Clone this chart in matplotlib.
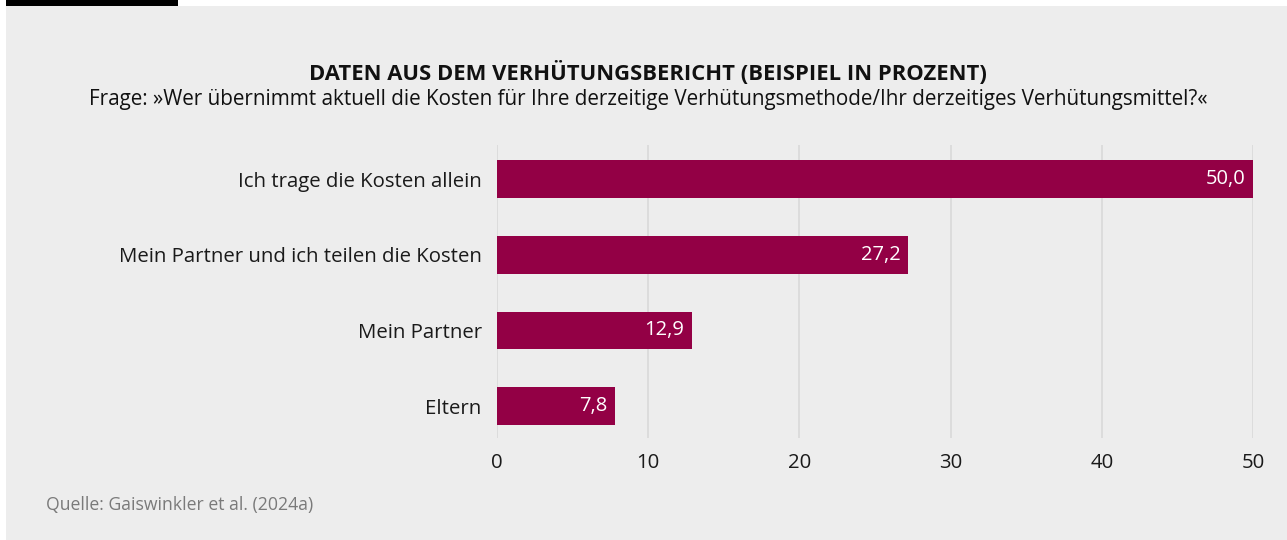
import matplotlib.pyplot as plt
from matplotlib.patches import Rectangle

plt.rcParams['font.family'] = ['Open Sans', 'DejaVu Sans']

categories = ['Ich trage die Kosten allein', 'Mein Partner und ich teilen die Kosten',
              'Mein Partner', 'Eltern']
values = [50.0, 27.2, 12.9, 7.8]
xticks = [0, 10, 20, 30, 40, 50]

bar_color = '#930045'
panel = '#ededed'

fig = plt.figure(figsize=(12.87, 5.40), dpi=100)
fig.patch.set_facecolor('white')
# grey panel and black tab at top left
fig.add_artist(Rectangle((6 / 1287, 0), 1, 534 / 540, transform=fig.transFigure,
                         facecolor=panel, edgecolor='none', zorder=0))
fig.add_artist(Rectangle((6 / 1287, 534 / 540), 172 / 1287, 6 / 540, transform=fig.transFigure,
                         facecolor='black', edgecolor='none', zorder=0))

ax = fig.add_axes([497 / 1287, 102 / 540, 756 / 1287, 293 / 540])
ax.set_facecolor('none')
y = list(range(len(categories)))
ax.barh(y, values, height=0.5, color=bar_color, zorder=3)
for yi, v in zip(y, values):
    ax.text(v - 0.5, yi, f'{v:.1f}'.replace('.', ','), color='white', fontsize=14.5,
            ha='right', va='center', zorder=4)

ax.set_xlim(0, 50)
ax.set_ylim(3.42, -0.45)
ax.set_xticks(xticks)
ax.set_yticks(y)
ax.set_yticklabels(categories)
ax.tick_params(axis='both', length=0, labelsize=14.7, colors='#1a1a1a')
ax.tick_params(axis='x', pad=11)
ax.tick_params(axis='y', pad=11)
ax.grid(axis='x', color='#d9d9d9', linewidth=1.2, zorder=0)
for s in ax.spines.values():
    s.set_visible(False)

fig.text(648 / 1287, 1 - 73 / 540, 'DATEN AUS DEM VERHÜTUNGSBERICHT (BEISPIEL IN PROZENT)',
         ha='center', va='center', fontsize=15.8, fontweight='bold', color='#111111')
fig.text(648 / 1287, 1 - 99 / 540,
         'Frage: »Wer übernimmt aktuell die Kosten für Ihre derzeitige Verhütungsmethode/Ihr derzeitiges Verhütungsmittel?«',
         ha='center', va='center', fontsize=14.9, color='#111111')
fig.text(46 / 1287, 1 - 505 / 540, 'Quelle: Gaiswinkler et al. (2024a)',
         ha='left', va='center', fontsize=12.7, color='#7a7a7a')

fig.savefig('out.png', dpi=100)
